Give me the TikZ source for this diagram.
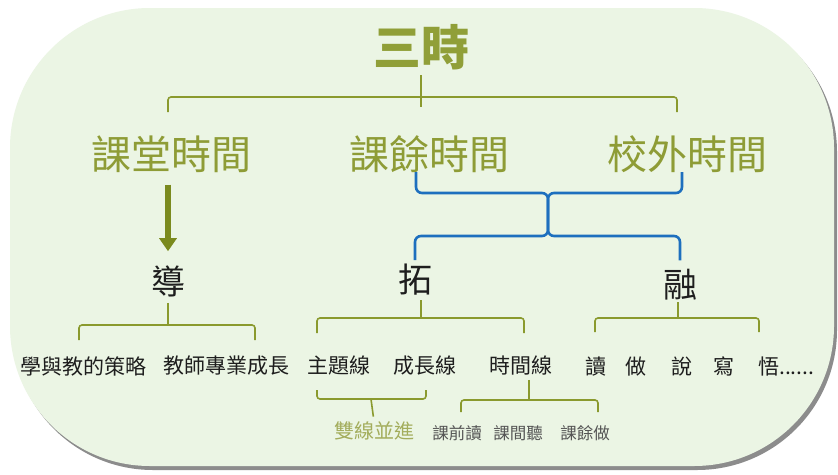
\documentclass[tikz,border=0pt]{standalone}
\usepackage{fontspec}
\newfontfamily\cjk{Noto Sans CJK TC}
\usetikzlibrary{arrows.meta,shadows}
\definecolor{bg}{HTML}{EBF5E4}
\definecolor{olive}{HTML}{8A9A2E}
\definecolor{olivetxt}{HTML}{8E9C36}
\definecolor{olivedark}{HTML}{7A8A1E}
\definecolor{olivelight}{HTML}{A3AD5C}
\definecolor{bracebl}{HTML}{1D6FBE}
\definecolor{ink}{HTML}{1E1E1E}
\definecolor{grayink}{HTML}{555555}
\begin{document}
\begin{tikzpicture}[x=1pt,y=-1pt,
  lbl/.style={inner sep=0pt},
  titletxt/.style={lbl, font=\cjk\bfseries\fontsize{48}{48}\selectfont, text=olive!95!white},
  lvtwo/.style={lbl, font=\cjk\fontsize{40}{40}\selectfont, text=olivetxt},
  lvthree/.style={lbl, font=\cjk\fontsize{34}{34}\selectfont, text=ink},
  itemtxt/.style={lbl, font=\cjk\fontsize{21}{21}\selectfont, text=ink, anchor=west},
  smalltxt/.style={lbl, font=\cjk\fontsize{16.5}{16.5}\selectfont, text=grayink},
  twintxt/.style={lbl, font=\cjk\fontsize{20}{20}\selectfont, text=olivelight},
  brk/.style={draw=olive, line width=1.6pt, rounded corners=3pt},
  bluebrk/.style={draw=bracebl, line width=2.6pt, rounded corners=6pt},
  downarrow/.style={draw=olivedark, line width=6pt, -{Triangle[width=17pt,length=13pt]}}]
\useasboundingbox (0,0) rectangle (838,474);
\fill[white] (0,0) rectangle (838,474);
\fill[bg, rounded corners=140pt, drop shadow={shadow xshift=3pt, shadow yshift=-4pt, opacity=0.6, fill=black!75}] (10,8) rectangle (834,466);

% nodes
\node[titletxt] (san) at (421,47) {三時};
\node[lvtwo] (kt) at (171,154) {課堂時間};
\node[lvtwo] (ky) at (429,154) {課餘時間};
\node[lvtwo] (xw) at (687,154) {校外時間};
\node[lvthree] (dao) at (168,281) {導};
\node[lvthree] (tuo) at (415,280) {拓};
\node[lvthree] (rong) at (680,285) {融};
\node[itemtxt] (i1) at (20,366) {學與教的策略};
\node[itemtxt] (i2) at (163,366) {教師專業成長};
\node[itemtxt] (i3) at (307,366) {主題線};
\node[itemtxt] (i4) at (393,366) {成長線};
\node[itemtxt] (i5) at (489,366) {時間線};
\node[itemtxt] (i6) at (585,366) {讀\hspace{19pt}做\hspace{25pt}說\hspace{21pt}寫\hspace{24pt}悟......};
\node[twintxt] (twin) at (374,431) {雙線並進};
\node[smalltxt] (s1) at (457,433) {課前讀};
\node[smalltxt] (s2) at (518,433) {課間聽};
\node[smalltxt] (s3) at (585,433) {課餘做};

% top bracket
\coordinate (tJ) at (421,97);
\coordinate (tL) at (168,112);
\coordinate (tR) at (677,112);
\draw[brk, shorten <=5pt] (san.south) -- (421,107);
\draw[brk] (tL) |- (tJ) -| (tR);

% arrow
\draw[downarrow, shorten <=12pt, shorten >=14pt] (kt.south -| dao.north) -- (dao.north);

% blue brace
\coordinate (bUL) at (416,172);
\coordinate (bUR) at (682,172);
\coordinate (bC1) at (548,193);
\coordinate (bC2) at (548,236);
\draw[bluebrk] (bUL) |- (bC1) -- (bC2) -| ([yshift=4pt]tuo.north);
\draw[bluebrk] (bUR) |- (bC1) -- (bC2) -| ([yshift=9pt]rong.north);

% 導 bracket
\coordinate (dJ) at (168,325);
\coordinate (dL) at (79,340);
\coordinate (dR) at (255,340);
\draw[brk, shorten <=6pt] (dao.south) -- (dJ);
\draw[brk] (dL) |- (dJ) -| (dR);

% 拓 bracket
\coordinate (uJ) at (421,318);
\coordinate (uL) at (317,333);
\coordinate (uR) at (524,333);
\draw[brk] (421,300) -- (uJ);
\draw[brk] (uL) |- (uJ) -| (uR);

% 融 bracket
\coordinate (rJ) at (678,318);
\coordinate (rL) at (595,332);
\coordinate (rR) at (759,332);
\draw[brk] (678,302) -- (rJ);
\draw[brk] (rL) |- (rJ) -| (rR);

% 雙線並進 bracket
\coordinate (wJ) at (371,399);
\coordinate (wL) at (317,390);
\coordinate (wR) at (426,390);
\draw[brk] (wL) |- (wJ) -| (wR);
\draw[brk, shorten >=5pt] (wJ) -- (twin.north);

% 時間線 bracket
\coordinate (mJ) at (529,400);
\coordinate (mL) at (461,412);
\coordinate (mR) at (598,412);
\draw[brk, shorten <=4pt] (i5.south -| mJ) -- (mJ);
\draw[brk] (mL) |- (mJ) -| (mR);
\end{tikzpicture}
\end{document}
